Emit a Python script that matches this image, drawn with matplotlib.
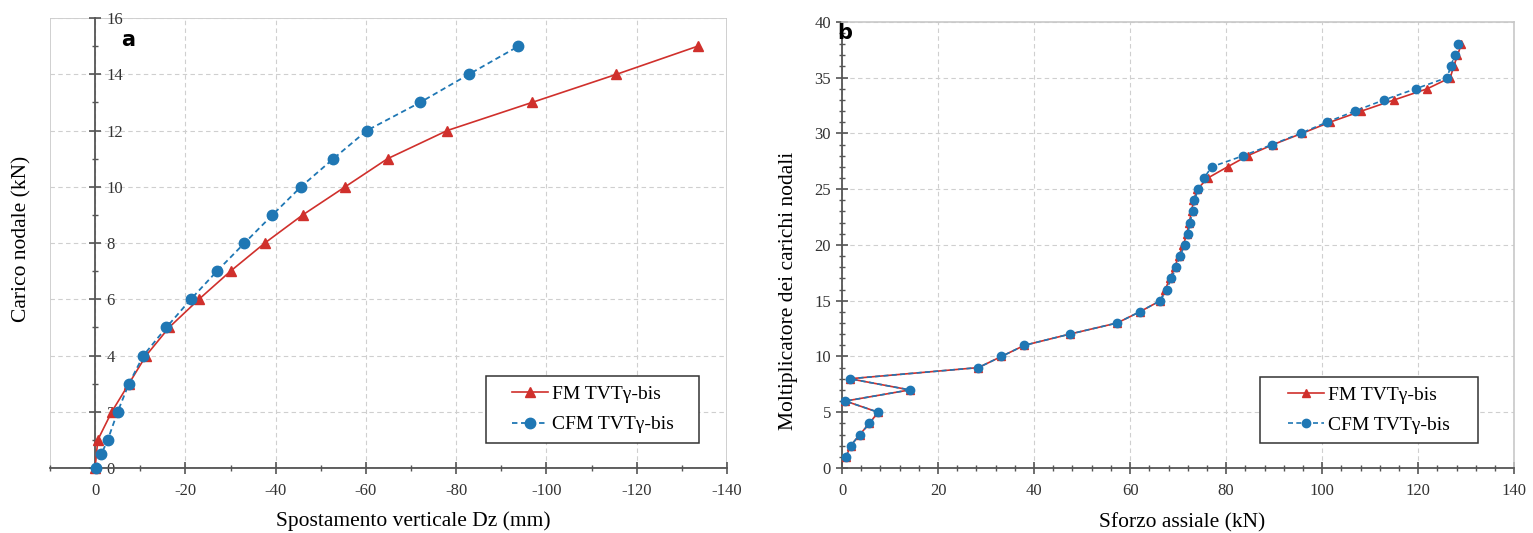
import matplotlib
matplotlib.use("Agg")
import matplotlib.pyplot as plt
from matplotlib.patches import Rectangle
from matplotlib.ticker import MultipleLocator

plt.rcParams['font.family'] = ['Liberation Serif', 'DejaVu Serif']
plt.rcParams['axes.unicode_minus'] = False

# --- panel a: load vs vertical displacement
fm_load = [0, 1, 2, 3, 4, 5, 6, 7, 8, 9, 10, 11, 12, 13, 14, 15]
fm_dz = [0, -0.6, -3.7, -7.5, -11.3, -16.4, -23.0, -30.0, -37.6, -46.0,
         -55.4, -64.8, -78.0, -96.8, -115.5, -133.5]
cfm_load = [0, 0.5, 1, 2, 3, 4, 5, 6, 7, 8, 9, 10, 11, 12, 13, 14, 15]
cfm_dz = [-0.3, -1.4, -2.8, -5.0, -7.5, -10.7, -15.8, -21.2, -27.0, -33.1,
          -39.3, -45.6, -52.8, -60.2, -72.0, -82.8, -93.8]

# --- panel b: load multiplier vs axial force
mult = list(range(1, 39))
cfm_force = [0.8, 1.8, 3.7, 5.7, 7.5, 0.7, 14.1, 1.6, 28.4, 33.2,
             38.0, 47.4, 57.3, 62.0, 66.3, 67.6, 68.6, 69.6, 70.4, 71.4,
             72.0, 72.5, 73.0, 73.4, 74.2, 75.4, 77.0, 83.6, 89.6, 95.5,
             101.0, 106.8, 112.9, 119.5, 126.0, 126.8, 127.6, 128.4]
fm_force = [0.8, 1.8, 3.7, 5.7, 7.5, 0.7, 14.1, 1.6, 28.4, 33.2,
            38.0, 47.4, 57.3, 62.0, 66.3, 67.3, 68.3, 69.3, 70.1, 71.1,
            71.8, 72.3, 72.8, 73.2, 74.0, 76.2, 80.3, 84.5, 89.8, 95.8,
            101.6, 108.2, 115.0, 121.9, 126.7, 127.4, 128.2, 129.0]

labels = ["FM TVTγ-bis", "CFM TVTγ-bis"]

RED = '#d0302c'
BLUE = '#1f77b4'
AXC = '#555555'
BOXC = '#c8c8c8'
GRIDC = '#cfcfcf'

fig = plt.figure(figsize=(15.33, 5.33), dpi=100)
ax1 = fig.add_axes([0.0326, 0.122, 0.4416, 0.844])
ax2 = fig.add_axes([0.5493, 0.122, 0.4384, 0.837])


def style_ticks(ax):
    ax.tick_params(which='major', direction='inout', length=8, width=1.2,
                   color=AXC, labelsize=12, labelcolor='#333333')
    ax.tick_params(which='minor', direction='inout', length=5, width=1.0,
                   color=AXC)
    ax.grid(True, which='major', ls=(0, (4, 3)), color=GRIDC, lw=0.8)
    ax.set_axisbelow(True)


def boxed_legend(ax, rect):
    x0, y0, w, h = rect
    ax.add_patch(Rectangle((x0, y0), w, h, transform=ax.transAxes,
                           fc='white', ec='#333333', lw=1.1, zorder=5))
    leg = ax.legend(loc='center', bbox_to_anchor=(x0 + w / 2, y0 + h / 2),
                    fontsize=14, frameon=False, handlelength=1.85,
                    handletextpad=0.2, borderaxespad=0, labelspacing=0.65)
    leg.set_zorder(6)


# panel a
ax1.plot(fm_dz, fm_load, color=RED, lw=1.2, marker='^', ms=7,
         label=labels[0], clip_on=False, zorder=3)
ax1.plot(cfm_dz, cfm_load, color=BLUE, lw=1.3, ls=(0, (3, 2)), marker='o',
         ms=7.5, label=labels[1], clip_on=False, zorder=4)
ax1.set_xlim(10, -140)
ax1.set_ylim(0, 16)
ax1.xaxis.set_major_locator(MultipleLocator(20))
ax1.xaxis.set_minor_locator(MultipleLocator(10))
ax1.yaxis.set_major_locator(MultipleLocator(2))
ax1.yaxis.set_minor_locator(MultipleLocator(1))
ax1.spines['right'].set_position(('data', 0))
ax1.yaxis.set_ticks_position('right')
ax1.xaxis.set_ticks_position('bottom')
ax1.spines['left'].set_visible(False)
ax1.spines['top'].set_visible(False)
for s in ('right', 'bottom'):
    ax1.spines[s].set_color(AXC)
    ax1.spines[s].set_linewidth(1.3)
ax1.add_patch(Rectangle((0, 0), 1, 1, transform=ax1.transAxes, fill=False,
                        ec=BOXC, lw=1.2, zorder=0))
style_ticks(ax1)
ax1.tick_params(axis='y', pad=4)
ax1.tick_params(axis='x', pad=7)
ax1.set_xlabel("Spostamento verticale Dz (mm)", fontsize=15.5)
ax1.set_ylabel("Carico nodale (kN)", fontsize=15.5)
ax1.xaxis.set_label_coords(0.536, -0.097)
ax1.yaxis.set_label_coords(-0.028, 0.51)
boxed_legend(ax1, (0.644, 0.056, 0.315, 0.148))
ax1.text(0.116, 0.952, "a", transform=ax1.transAxes, fontsize=15,
         fontweight='bold', family='DejaVu Sans', va='center', ha='center')

# panel b
ax2.plot(fm_force, mult, color=RED, lw=1.2, marker='^', ms=6,
         label=labels[0], clip_on=False, zorder=3)
ax2.plot(cfm_force, mult, color=BLUE, lw=1.2, ls=(0, (3, 2)), marker='o',
         ms=6, label=labels[1], clip_on=False, zorder=4)
ax2.set_xlim(0, 140)
ax2.set_ylim(0, 40)
ax2.xaxis.set_major_locator(MultipleLocator(20))
ax2.xaxis.set_minor_locator(MultipleLocator(4))
ax2.yaxis.set_major_locator(MultipleLocator(5))
ax2.yaxis.set_minor_locator(MultipleLocator(1))
for s in ('left', 'bottom'):
    ax2.spines[s].set_color(AXC)
    ax2.spines[s].set_linewidth(1.3)
for s in ('top', 'right'):
    ax2.spines[s].set_color(BOXC)
    ax2.spines[s].set_linewidth(1.2)
ax2.xaxis.set_ticks_position('bottom')
ax2.yaxis.set_ticks_position('left')
style_ticks(ax2)
ax2.tick_params(axis='y', pad=4)
ax2.tick_params(axis='x', pad=7)
ax2.set_xlabel("Sforzo assiale (kN)", fontsize=15.5)
ax2.set_ylabel("Moltiplicatore dei carichi nodali", fontsize=15.5)
ax2.xaxis.set_label_coords(0.506, -0.1)
ax2.yaxis.set_label_coords(-0.066, 0.397)
boxed_legend(ax2, (0.622, 0.056, 0.324, 0.148))
ax2.text(0.004, 0.975, "b", transform=ax2.transAxes, fontsize=15,
         fontweight='bold', family='DejaVu Sans', va='center', ha='center')

fig.savefig("out.png", dpi=100)
